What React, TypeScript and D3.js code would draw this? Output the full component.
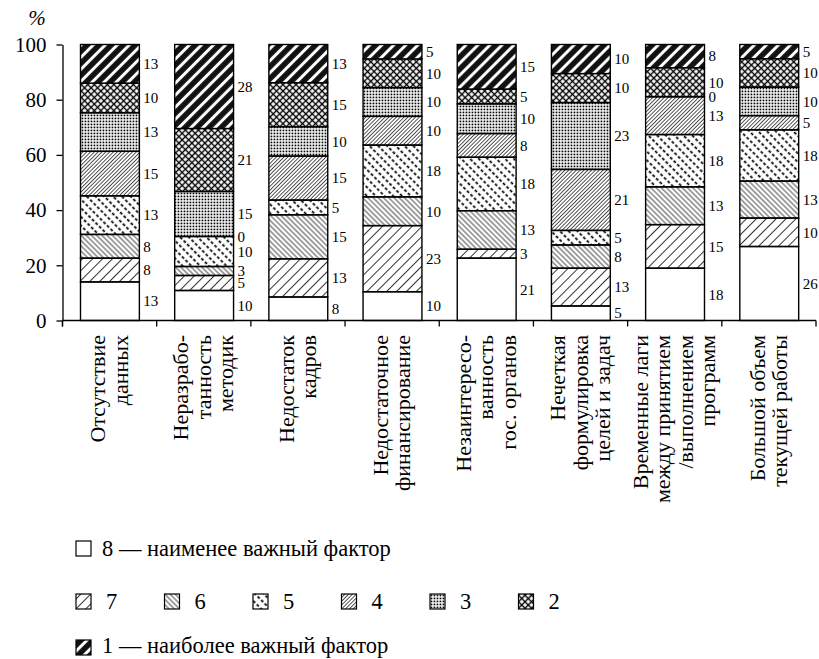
import React, { useRef, useEffect } from "react";
import * as d3 from "d3";

// factors (x categories), each split into lines for the rotated labels
const categories = [
  "Отсутствие данных",
  "Неразработанность методик",
  "Недостаток кадров",
  "Недостаточное финансирование",
  "Незаинтересованность гос. органов",
  "Нечеткая формулировка целей и задач",
  "Временные лаги между принятием/выполнением программ",
  "Большой объем текущей работы",
];
const categoryLines = [
  ["Отсутствие", "данных"],
  ["Неразрабо-", "танность", "методик"],
  ["Недостаток", "кадров"],
  ["Недостаточное", "финансирование"],
  ["Незаинтересо-", "ванность", "гос. органов"],
  ["Нечеткая", "формулировка", "целей и задач"],
  ["Временные лаги", "между принятием", "/выполнением", "программ"],
  ["Большой объем", "текущей работы"],
];

// ranks from bottom (8 = least important) to top (1 = most important)
const ranks = ["8", "7", "6", "5", "4", "3", "2", "1"];
const rank8 = [13, 10, 8, 10, 21, 5, 18, 26];
const rank7 = [8, 5, 13, 23, 3, 13, 15, 10];
const rank6 = [8, 3, 15, 10, 13, 8, 13, 13];
const rank5 = [13, 10, 5, 18, 18, 5, 18, 18];
const rank4 = [15, 0, 15, 10, 8, 21, 13, 5];
const rank3 = [13, 15, 10, 10, 10, 23, 0, 10];
const rank2 = [10, 21, 15, 10, 5, 10, 10, 10];
const rank1 = [13, 28, 13, 5, 15, 10, 8, 5];
const rankValues = [rank8, rank7, rank6, rank5, rank4, rank3, rank2, rank1];

const yTicks = [0, 20, 40, 60, 80, 100];
const legendMiddle = ["7", "6", "5", "4", "3", "2"];

const W = 819;
const H = 659;
const serif = { fontFamily: "Liberation Serif" };

const rows = categories.map((c, i) => {
  const r: any = { cat: c };
  ranks.forEach((k, j) => (r[k] = rankValues[j][i]));
  return r;
});

const stack = d3.stack<any>().keys(ranks).offset(d3.stackOffsetExpand);
const series = stack(rows);

const x = d3.scaleBand<string>().domain(categories).range([62.5, 816]);
const y = d3.scaleLinear().domain([0, 100]).range([320.5, 44.5]);

const barOffset = 18;
const barWidth = x.bandwidth() * 0.625;

const fillFor = (k: string) => (k === "8" ? "#fff" : `url(#p${k})`);

const App = () => {
  const yAxisRef = useRef<SVGGElement>(null);

  useEffect(() => {
    if (yAxisRef.current) {
      const g = d3.select(yAxisRef.current);
      g.call(
        d3
          .axisLeft(y)
          .tickValues(yTicks)
          .tickSize(6)
          .tickSizeOuter(0)
          .tickPadding(10)
      );
      g.attr("font-size", 21);
      g.selectAll("path, line").attr("stroke", "#000").attr("stroke-width", 1.3);
      g.selectAll("text").attr("fill", "#000").style("font-family", "Liberation Serif");
    }
  }, []);

  const boundaries = x.domain().map((c) => x(c) as number).concat([x.range()[1]]);

  return (
    <svg width={W} height={H} style={{ position: "absolute", left: 0, top: 0, background: "#fff" }}>
      <defs>
        <pattern id="p7" patternUnits="userSpaceOnUse" width="10" height="7" patternTransform="rotate(-45)">
          <line x1="0" y1="3.5" x2="10" y2="3.5" stroke="#000" strokeWidth="0.8" />
        </pattern>
        <pattern id="p6" patternUnits="userSpaceOnUse" width="10" height="3.7" patternTransform="rotate(45)">
          <line x1="0" y1="1.85" x2="10" y2="1.85" stroke="#000" strokeWidth="0.75" />
        </pattern>
        <pattern id="p5" patternUnits="userSpaceOnUse" width="5" height="6.2" patternTransform="rotate(45)">
          <line x1="0" y1="3.1" x2="5" y2="3.1" stroke="#000" strokeWidth="1.7" strokeDasharray="3 2" />
        </pattern>
        <pattern id="p4" patternUnits="userSpaceOnUse" width="10" height="2.7" patternTransform="rotate(-45)">
          <line x1="0" y1="1.35" x2="10" y2="1.35" stroke="#000" strokeWidth="0.7" />
        </pattern>
        <pattern id="p3" patternUnits="userSpaceOnUse" width="3" height="3">
          <rect x="0.6" y="0.6" width="1.7" height="1.7" fill="#000" />
        </pattern>
        <pattern id="p2" patternUnits="userSpaceOnUse" width="4.6" height="4.6" patternTransform="rotate(45)">
          <path d="M0,2.3H4.6M2.3,0V4.6" stroke="#000" strokeWidth="1.4" />
        </pattern>
        <pattern id="p1" patternUnits="userSpaceOnUse" width="10" height="8.5" patternTransform="rotate(-45)">
          <rect width="10" height="8.5" fill="#111" />
          <line x1="0" y1="4.25" x2="10" y2="4.25" stroke="#fff" strokeWidth="3" />
        </pattern>
      </defs>

      {/* % label */}
      <text x={37} y={25} fontSize={21} fontStyle="italic" textAnchor="middle" style={serif}>%</text>

      {/* bars */}
      {series.map((s) => (
        <g key={s.key}>
          {s.map((d, i) => {
            const x0 = (x(categories[i]) as number) + barOffset;
            const yTop = y(d[1] * 100);
            const yBot = y(d[0] * 100);
            return (
              <rect
                key={i}
                x={x0}
                y={yTop}
                width={barWidth}
                height={yBot - yTop}
                fill={fillFor(s.key)}
                stroke="#000"
                strokeWidth={1.4}
              />
            );
          })}
        </g>
      ))}

      {/* value labels */}
      {series.map((s, j) => (
        <g key={"l" + s.key}>
          {s.map((d, i) => {
            const x0 = (x(categories[i]) as number) + barOffset + barWidth + 4;
            const ym = y(((d[0] + d[1]) / 2) * 100);
            return (
              <text key={i} x={x0} y={ym} dy="0.35em" fontSize={15} style={serif}>
                {rankValues[j][i]}
              </text>
            );
          })}
        </g>
      ))}

      {/* y axis */}
      <g ref={yAxisRef} transform="translate(62.5,0)" />
      <line x1={62.5} x2={62.5} y1={y(0)} y2={y(0) + 6} stroke="#000" strokeWidth={1.3} />

      {/* x axis */}
      <line x1={62.5} x2={x.range()[1]} y1={y(0)} y2={y(0)} stroke="#000" strokeWidth={1.3} />
      {boundaries.map((b, i) => (
        <line key={i} x1={b} x2={b} y1={y(0)} y2={y(0) + 6} stroke="#000" strokeWidth={1.3} />
      ))}

      {/* category labels */}
      {categoryLines.map((lines, i) => {
        const cx = (x(categories[i]) as number) + x.bandwidth() / 2;
        const n = lines.length;
        return (
          <text
            key={i}
            transform={`translate(${cx},335) rotate(-90)`}
            textAnchor="end"
            fontSize={22}
            style={serif}
          >
            {lines.map((l, k) => (
              <tspan key={k} x={0} y={(k - (n - 1) / 2) * 22.5 + 7}>
                {l}
              </tspan>
            ))}
          </text>
        );
      })}

      {/* legend */}
      <g fontSize={22.5}>
        <rect x={76} y={541} width={15} height={15} fill={fillFor("8")} stroke="#000" strokeWidth={1.2} />
        <text x={102} y={555.5} style={serif}>8 — наименее важный фактор</text>
        {legendMiddle.map((k, i) => (
          <g key={k} transform={`translate(${76 + i * 88.5},0)`}>
            <rect x={0} y={594} width={15} height={15} fill={fillFor(k)} stroke="#000" strokeWidth={1.2} />
            <text x={30} y={608.5} style={serif}>{k}</text>
          </g>
        ))}
        <rect x={76} y={640} width={15} height={15} fill={fillFor("1")} stroke="#000" strokeWidth={1.2} />
        <text x={102} y={653} style={serif}>1 — наиболее важный фактор</text>
      </g>
    </svg>
  );
};

App.displayName = "App";
export default App;
